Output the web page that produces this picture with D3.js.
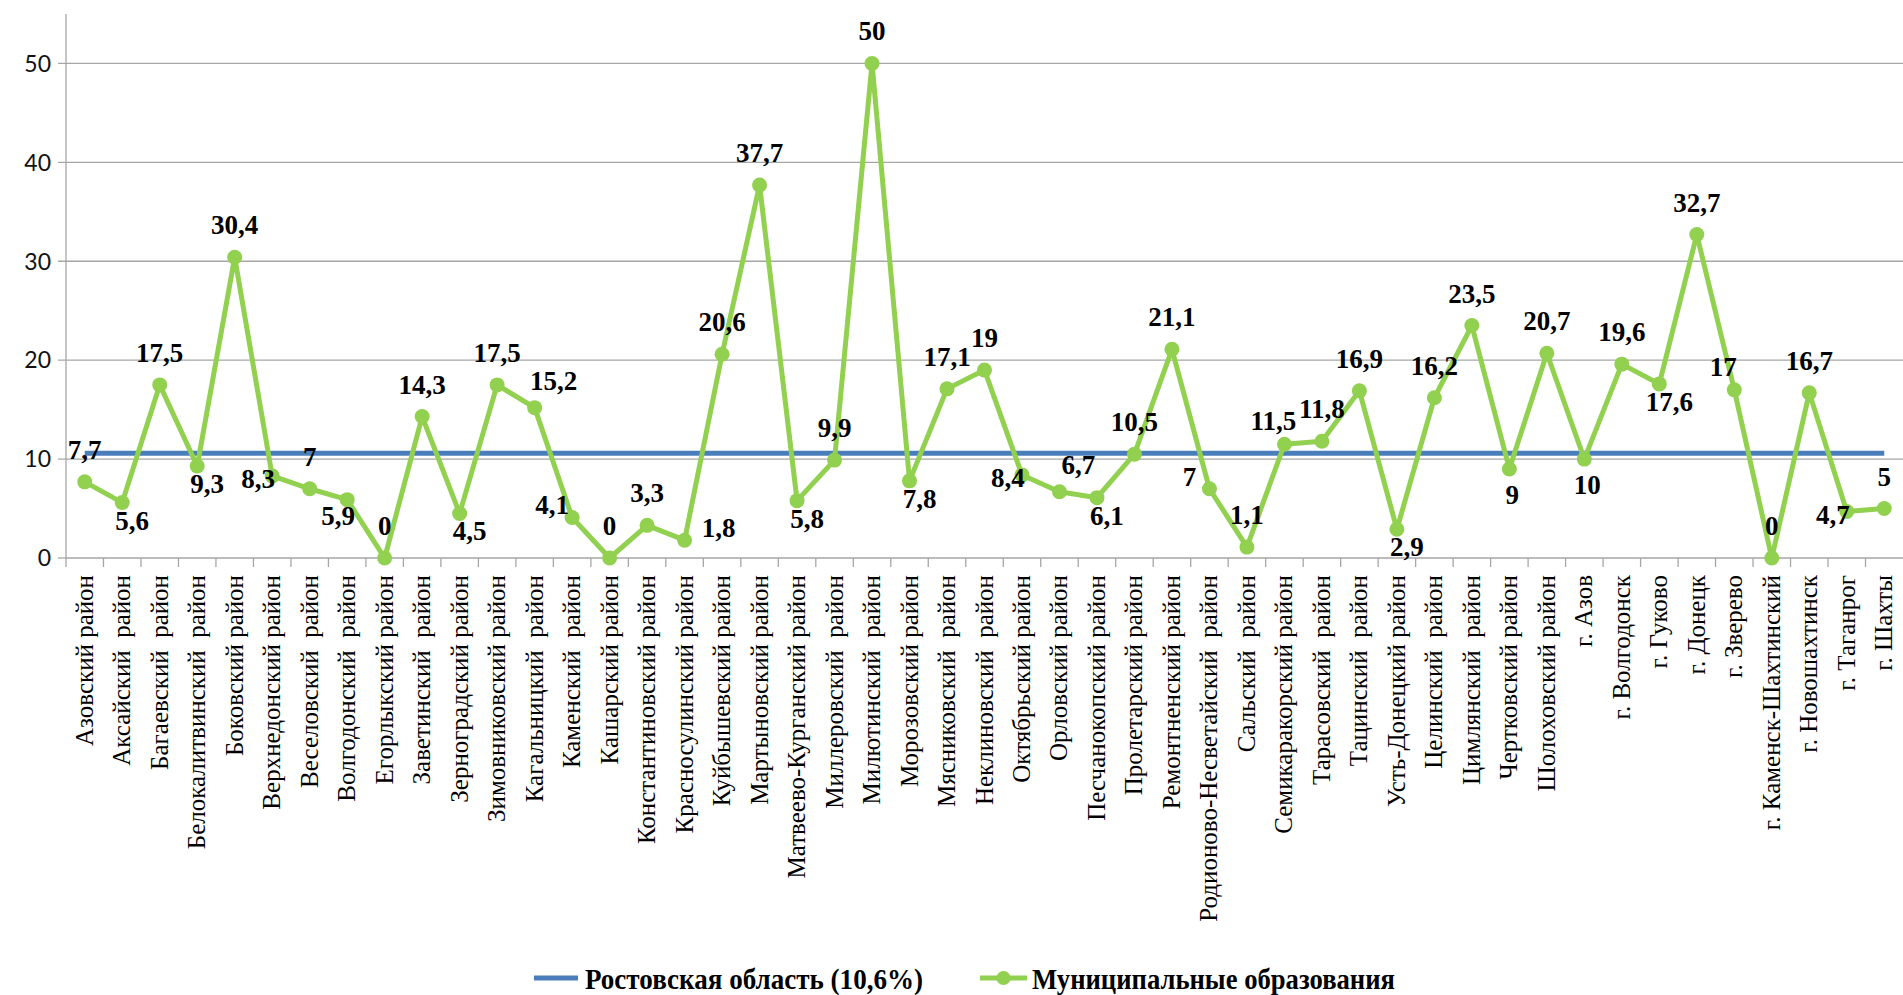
<!DOCTYPE html>
<html lang="ru">
<head>
    <meta charset="UTF-8">
    <title>Муниципальные образования</title>
    <script src="https://cdn.jsdelivr.net/npm/d3@7"></script>
    <style>
        html, body {
            margin: 0;
            padding: 0;
            background: #ffffff;
            overflow: hidden;
        }
        .grid line {
            stroke: #a6a6a6;
            stroke-width: 1.3px;
        }
        .tick-y {
            font-family: Lato, 'Noto Sans', sans-serif;
            font-size: 23px;
            fill: #111;
        }
        .cat {
            font-family: 'Liberation Serif', 'DejaVu Serif', serif;
            font-size: 25px;
            fill: #000;
        }
        .lbl {
            font-family: 'Liberation Serif', serif;
            font-weight: bold;
            font-size: 27px;
            fill: #000;
            text-anchor: middle;
        }
        .legend text {
            font-family: 'Liberation Serif', serif;
            font-weight: bold;
            font-size: 29px;
        }
    </style>
</head>
<body>
<script>
    // категории (ось X)
    const districts = [
        'Азовский район', 'Аксайский  район', 'Багаевский  район', 'Белокалитвинский  район',
        'Боковский район', 'Верхнедонский район', 'Веселовский  район', 'Волгодонский  район',
        'Егорлыкский район', 'Заветинский  район', 'Зерноградский район', 'Зимовниковский район',
        'Кагальницкий  район', 'Каменский  район', 'Кашарский район', 'Константиновский район',
        'Красносулинский район', 'Куйбышевский район', 'Мартыновский район', 'Матвеево-Курганский район',
        'Миллеровский  район', 'Милютинский  район', 'Морозовский район', 'Мясниковский  район',
        'Неклиновский  район', 'Октябрьский район', 'Орловский район', 'Песчанокопский район',
        'Пролетарский район', 'Ремонтненский район', 'Родионово-Несветайский  район', 'Сальский  район',
        'Семикаракорский район', 'Тарасовский  район', 'Тацинский  район', 'Усть-Донецкий район',
        'Целинский  район', 'Цимлянский  район', 'Чертковский район', 'Шолоховский район',
        'г. Азов', 'г. Волгодонск', 'г. Гуково', 'г. Донецк',
        'г. Зверево', 'г. Каменск-Шахтинский', 'г. Новошахтинск', 'г. Таганрог',
        'г. Шахты'
    ];

    // значения по муниципальным образованиям
    const municipalValues = [
        7.7, 5.6, 17.5, 9.3, 30.4, 8.3, 7, 5.9,
        0, 14.3, 4.5, 17.5, 15.2, 4.1, 0, 3.3,
        1.8, 20.6, 37.7, 5.8, 9.9, 50, 7.8, 17.1,
        19, 8.4, 6.7, 6.1, 10.5, 21.1, 7, 1.1,
        11.5, 11.8, 16.9, 2.9, 16.2, 23.5, 9, 20.7,
        10, 19.6, 17.6, 32.7, 17, 0, 16.7, 4.7,
        5
    ];

    // среднее по области
    const regionValue = 10.6;

    const yTicks = [0, 10, 20, 30, 40, 50];

    const seriesNames = ['Ростовская область (10,6%)', 'Муниципальные образования'];

    // где стоит подпись относительно точки
    const labelPlace = [
        't', 'br', 't', 'br', 't', 'lb', 't', 'bl',
        't', 't', 'br', 't', 'tr', 'l', 't', 't',
        'r', 't', 't', 'br', 't', 't', 'br', 't',
        't', 'lb', 'tr', 'br', 't', 't', 'l', 't',
        'tl', 't', 't', 'br', 't', 't', 'b', 't',
        'b', 't', 'br', 't', 'tl', 't', 't', 'lb',
        't'
    ];

    const placeOffset = {
        t: [0, -23], b: [3, 35], br: [10, 27], bl: [-9, 25],
        tr: [19, -18], tl: [-11, -14], l: [-20, -3], lb: [-14, 12], r: [34, -3]
    };

    const width = 1903;
    const height = 995;
    const blue = '#4a7ebb';
    const green = '#92d050';
    const fmt = v => String(v).replace('.', ',');

    const svg = d3.select('body')
        .append('svg')
        .attr('width', width)
        .attr('height', height);

    svg.append('rect')
        .attr('width', width)
        .attr('height', height)
        .attr('fill', '#fff');

    const x = d3.scaleBand()
        .domain(districts)
        .range([66, 1903]);

    const y = d3.scaleLinear()
        .domain([0, 55])
        .range([558, 14]);

    const cx = d => x(d) + x.bandwidth() / 2;

    // сетка
    const grid = svg.append('g').classed('grid', true);
    grid.selectAll('line')
        .data(yTicks.filter(t => t > 0))
        .enter().append('line')
        .attr('x1', 58)
        .attr('x2', width)
        .attr('y1', d => y(d))
        .attr('y2', d => y(d));

    // ось Y
    const axisY = svg.append('g').classed('grid', true);
    axisY.append('line')
        .attr('x1', 66).attr('x2', 66)
        .attr('y1', y(55)).attr('y2', y(0));
    axisY.append('line')
        .attr('x1', 58).attr('x2', 66)
        .attr('y1', y(0)).attr('y2', y(0));

    svg.append('g')
        .selectAll('text')
        .data(yTicks)
        .enter().append('text')
        .classed('tick-y', true)
        .attr('x', 51)
        .attr('y', d => y(d))
        .attr('dy', '0.36em')
        .attr('text-anchor', 'end')
        .text(d => d);

    // ось X
    const axisX = svg.append('g').classed('grid', true);
    axisX.append('line')
        .attr('x1', 66).attr('x2', width)
        .attr('y1', y(0)).attr('y2', y(0));
    axisX.selectAll('.tk')
        .data(districts)
        .enter().append('line')
        .attr('x1', d => x(d)).attr('x2', d => x(d))
        .attr('y1', y(0)).attr('y2', y(0) + 9);

    svg.append('g')
        .selectAll('text')
        .data(districts)
        .enter().append('text')
        .classed('cat', true)
        .attr('text-anchor', 'end')
        .attr('transform', d => `translate(${cx(d) + 8},${y(0) + 17}) rotate(-90)`)
        .attr('xml:space', 'preserve')
        .text(d => d);

    // линия по области
    svg.append('line')
        .attr('x1', cx(districts[0]))
        .attr('x2', cx(districts[districts.length - 1]))
        .attr('y1', y(regionValue))
        .attr('y2', y(regionValue))
        .attr('stroke', blue)
        .attr('stroke-width', 5);

    // линия по муниципальным образованиям
    const pts = districts.map((d, i) => ({name: d, value: municipalValues[i], place: labelPlace[i]}));

    const line = d3.line()
        .x(d => cx(d.name))
        .y(d => y(d.value));

    svg.append('path')
        .datum(pts)
        .attr('d', line)
        .attr('fill', 'none')
        .attr('stroke', green)
        .attr('stroke-width', 5)
        .attr('stroke-linejoin', 'round');

    svg.append('g')
        .selectAll('circle')
        .data(pts)
        .enter().append('circle')
        .attr('cx', d => cx(d.name))
        .attr('cy', d => y(d.value))
        .attr('r', 7.5)
        .attr('fill', green);

    svg.append('g')
        .selectAll('text')
        .data(pts)
        .enter().append('text')
        .classed('lbl', true)
        .attr('x', d => cx(d.name) + placeOffset[d.place][0])
        .attr('y', d => y(d.value) + placeOffset[d.place][1])
        .text(d => fmt(d.value));

    // легенда
    const legend = svg.append('g').classed('legend', true);
    legend.append('line')
        .attr('x1', 534).attr('x2', 578)
        .attr('y1', 978).attr('y2', 978)
        .attr('stroke', blue)
        .attr('stroke-width', 5);
    legend.append('text')
        .attr('x', 585)
        .attr('y', 989)
        .attr('textLength', 338)
        .attr('lengthAdjust', 'spacingAndGlyphs')
        .text(seriesNames[0]);

    legend.append('line')
        .attr('x1', 980).attr('x2', 1027)
        .attr('y1', 978).attr('y2', 978)
        .attr('stroke', green)
        .attr('stroke-width', 5);
    legend.append('circle')
        .attr('cx', 1003.5).attr('cy', 978)
        .attr('r', 7)
        .attr('fill', green);
    legend.append('text')
        .attr('x', 1032)
        .attr('y', 989)
        .attr('textLength', 363)
        .attr('lengthAdjust', 'spacingAndGlyphs')
        .text(seriesNames[1]);
</script>
</body>
</html>
